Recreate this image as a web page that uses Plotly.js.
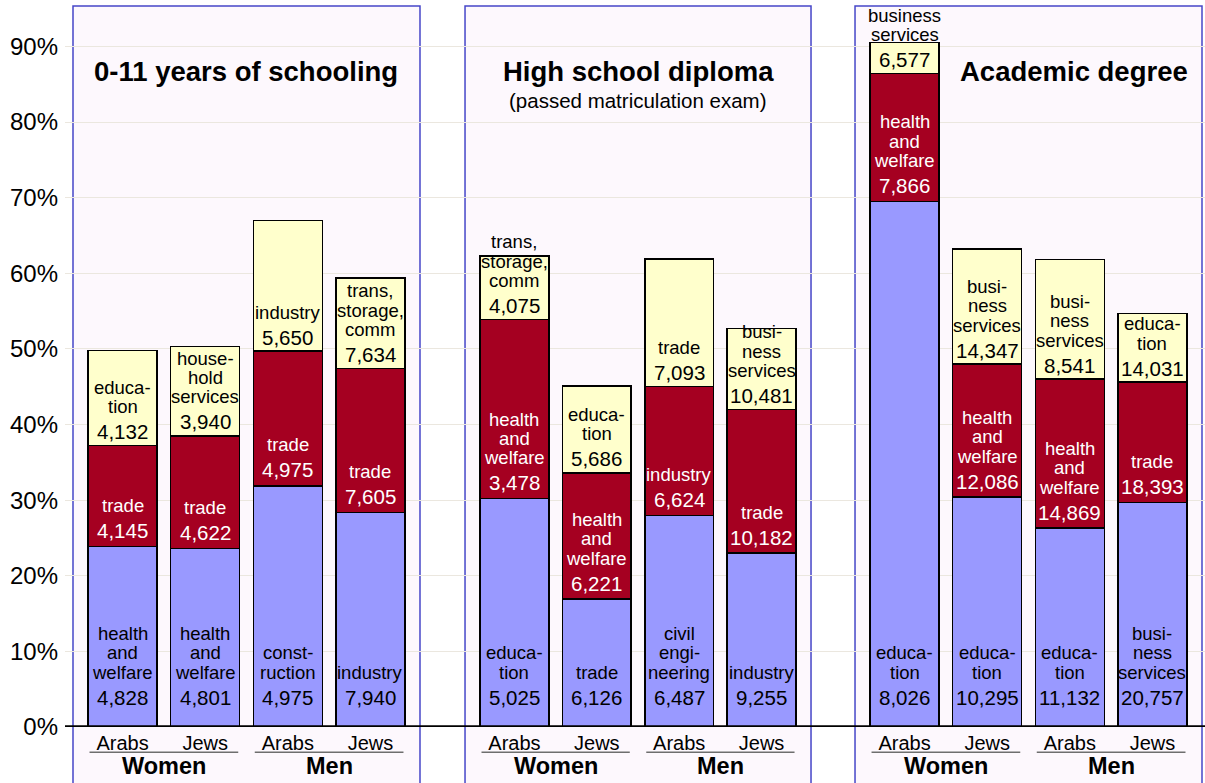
<!DOCTYPE html>
<html>
<head>
<meta charset="utf-8">
<script src="https://cdn.plot.ly/plotly-3.0.1.min.js"></script>
<style>html,body{margin:0;padding:0;background:#ffffff;}#chart{width:1205px;height:783px;}</style>
</head>
<body>
<div id="chart"></div>
<script>
// ---------- DATA ----------
const panelTitles = ["0-11 years of schooling", "High school diploma", "Academic degree"];
const panelSubtitles = ["", "(passed matriculation exam)", ""];
const ethnicity = ["Arabs", "Jews", "Arabs", "Jews"];
const gender = ["Women", "Women", "Men", "Men"];

// share of employed (%) – bottom, middle, top industry of each bar
const p1Bottom = [23.9, 23.6, 31.9, 28.4];
const p1Middle = [13.3, 14.9, 17.8, 19.0];
const p1Top    = [12.6, 11.8, 17.3, 12.0];

const p2Bottom = [30.2, 16.9, 28.0, 23.0];
const p2Middle = [23.7, 16.7, 17.0, 19.0];
const p2Top    = [8.4, 11.5, 16.9, 10.7];

const p3Bottom = [69.5, 30.4, 26.3, 29.7];
const p3Middle = [16.9, 17.6, 19.7, 15.9];
const p3Top    = [4.1, 15.2, 15.8, 9.1];

// industry names
const p1BottomNames = ["health\nand\nwelfare", "health\nand\nwelfare", "const-\nruction", "industry"];
const p1MiddleNames = ["trade", "trade", "trade", "trade"];
const p1TopNames    = ["educa-\ntion", "house-\nhold\nservices", "industry", "trans,\nstorage,\ncomm"];

const p2BottomNames = ["educa-\ntion", "trade", "civil\nengi-\nneering", "industry"];
const p2MiddleNames = ["health\nand\nwelfare", "health\nand\nwelfare", "industry", "trade"];
const p2TopNames    = ["trans,\nstorage,\ncomm", "educa-\ntion", "trade", "busi-\nness\nservices"];

const p3BottomNames = ["educa-\ntion", "educa-\ntion", "educa-\ntion", "busi-\nness\nservices"];
const p3MiddleNames = ["health\nand\nwelfare", "health\nand\nwelfare", "health\nand\nwelfare", "trade"];
const p3TopNames    = ["business\nservices", "busi-\nness\nservices", "busi-\nness\nservices", "educa-\ntion"];

// numbers shown under each industry name
const p1BottomNums = [4828, 4801, 4975, 7940];
const p1MiddleNums = [4145, 4622, 4975, 7605];
const p1TopNums    = [4132, 3940, 5650, 7634];

const p2BottomNums = [5025, 6126, 6487, 9255];
const p2MiddleNums = [3478, 6221, 6624, 10182];
const p2TopNums    = [4075, 5686, 7093, 10481];

const p3BottomNums = [8026, 10295, 11132, 20757];
const p3MiddleNums = [7866, 12086, 14869, 18393];
const p3TopNums    = [6577, 14347, 8541, 14031];

const yTicks = [0, 10, 20, 30, 40, 50, 60, 70, 80, 90];

// ---------- STYLE ----------
const FONT = "Arial, 'Liberation Sans', sans-serif";
const segColors = ["#9999ff", "#a50021", "#ffffcc"];
const segTextColors = ["#000000", "#ffffff", "#000000"];
const numOffset = [30, 16, 14];       // px above segment base for the number line
const numGap = 25;                    // px between number line and last word line
const wordGap = 19.3;                 // px between word lines
const panelDomains = [[0.00702, 0.3114], [0.3509, 0.6544], [0.693, 0.99737]];
const titleX = [0.5, 0.5, 0.631];
const panelFill = "#fdf8fd";
const panelLine = "#4646c8";

const panels = [
  {segs: [p1Bottom, p1Middle, p1Top], names: [p1BottomNames, p1MiddleNames, p1TopNames], nums: [p1BottomNums, p1MiddleNums, p1TopNums]},
  {segs: [p2Bottom, p2Middle, p2Top], names: [p2BottomNames, p2MiddleNames, p2TopNames], nums: [p2BottomNums, p2MiddleNums, p2TopNums]},
  {segs: [p3Bottom, p3Middle, p3Top], names: [p3BottomNames, p3MiddleNames, p3TopNames], nums: [p3BottomNums, p3MiddleNums, p3TopNums]}
];

const idx = ethnicity.map((_, i) => i);
const traces = [];
const annotations = [];
const shapes = [];

// full-width background subplot (grid lines across the whole width)
traces.push({type: "scatter", x: [0, 1], y: [0, 0], mode: "none", xaxis: "x", yaxis: "y",
  hoverinfo: "skip", showlegend: false});

const layout = {
  width: 1205, height: 783,
  margin: {l: 65, r: 0, t: 6, b: 55.5},
  paper_bgcolor: "#ffffff",
  plot_bgcolor: "rgba(0,0,0,0)",
  barmode: "stack",
  showlegend: false,
  font: {family: FONT, color: "#000"},
  xaxis: {domain: [0, 1], range: [0, 1], showgrid: false, zeroline: false, showline: false,
    showticklabels: false, ticks: "", fixedrange: true},
  yaxis: {anchor: "x", range: [0, 95.35], tickvals: yTicks, ticktext: yTicks.map(v => v + "%"),
    tickfont: {size: 24, family: FONT, color: "#000"}, ticks: "", ticklabelstandoff: 6,
    showgrid: true, gridcolor: "#ebe7df", gridwidth: 1, zeroline: false, showline: false, fixedrange: true}
};

panels.forEach((p, pi) => {
  const xa = "x" + (pi + 2);
  const axKey = "xaxis" + (pi + 2);
  layout[axKey] = {domain: panelDomains[pi], anchor: "y", range: [-0.6, 3.6],
    tickvals: idx, ticktext: ethnicity, tickfont: {size: 20, family: FONT, color: "#000"},
    ticks: "", ticklabelstandoff: 2, showgrid: false, zeroline: false, showline: false, fixedrange: true};

  // panel box
  shapes.push({type: "rect", xref: "paper", yref: "paper", x0: panelDomains[pi][0], x1: panelDomains[pi][1],
    y0: -0.12, y1: 1, fillcolor: panelFill, line: {color: panelLine, width: 1.5}, layer: "below"});

  // bars
  p.segs.forEach((vals, s) => {
    traces.push({type: "bar", x: idx, y: vals, xaxis: xa, yaxis: "y", width: 0.835,
      marker: {color: segColors[s], line: {color: "#000", width: 1.5}},
      hoverinfo: "skip", showlegend: false});
  });

  // segment labels
  idx.forEach(i => {
    let base = 0;
    p.segs.forEach((vals, s) => {
      const col = segTextColors[s];
      annotations.push({xref: xa, yref: "y", x: i, y: base, xanchor: "center", yanchor: "middle",
        yshift: numOffset[s], showarrow: false, text: p.nums[s][i].toLocaleString("en-US"),
        font: {size: 20.5, family: FONT, color: col}});
      const lines = p.names[s][i].split("\n");
      lines.forEach((ln, k) => {
        const fromBottom = lines.length - 1 - k;
        annotations.push({xref: xa, yref: "y", x: i, y: base, xanchor: "center", yanchor: "middle",
          yshift: numOffset[s] + numGap + wordGap * fromBottom, showarrow: false, text: ln,
          font: {size: 18.5, family: FONT, color: col}});
      });
      base += vals[i];
    });
  });

  // gender group labels and underlines
  const groups = [...new Set(gender)];
  groups.forEach(g => {
    const members = idx.filter(i => gender[i] === g);
    const lo = Math.min(...members), hi = Math.max(...members);
    annotations.push({xref: xa, yref: "paper", x: (lo + hi) / 2, y: -0.0534, xanchor: "center", yanchor: "middle",
      showarrow: false, text: g, font: {size: 23.5, family: FONT, color: "#000", weight: "bold"}});
    shapes.push({type: "line", xref: xa, yref: "paper", x0: lo - 0.4, x1: hi + 0.4, y0: -0.035, y1: -0.035,
      line: {color: "#6e6e6e", width: 1.5}});
  });

  // panel titles
  annotations.push({xref: "paper", yref: "paper",
    x: panelDomains[pi][0] + titleX[pi] * (panelDomains[pi][1] - panelDomains[pi][0]),
    y: 0.9085, xanchor: "center", yanchor: "middle", showarrow: false, text: panelTitles[pi],
    font: {size: 27.5, family: FONT, color: "#000", weight: "bold"}});
  if (panelSubtitles[pi]) {
    annotations.push({xref: "paper", yref: "paper",
      x: panelDomains[pi][0] + titleX[pi] * (panelDomains[pi][1] - panelDomains[pi][0]),
      y: 0.8683, xanchor: "center", yanchor: "middle", showarrow: false, text: panelSubtitles[pi],
      font: {size: 20.5, family: FONT, color: "#000"}});
  }
});

// thick zero line
shapes.push({type: "line", xref: "paper", yref: "y", x0: 0, x1: 1, y0: 0, y1: 0,
  line: {color: "#000", width: 3.5}, layer: "above"});

layout.shapes = shapes;
layout.annotations = annotations;

Plotly.newPlot("chart", traces, layout, {displayModeBar: false, staticPlot: true});
</script>
</body>
</html>
